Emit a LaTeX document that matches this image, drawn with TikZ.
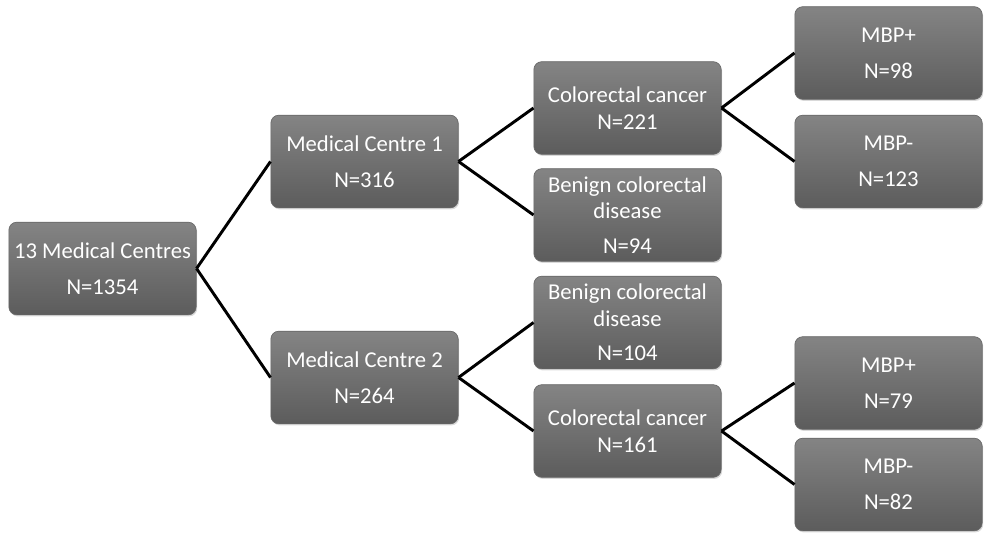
\documentclass[tikz,border=0pt]{standalone}
\usepackage{fontspec}
\setmainfont{Carlito}
\usetikzlibrary{shadows}
\definecolor{boxtop}{RGB}{132,132,132}
\definecolor{boxbot}{RGB}{92,92,92}
\definecolor{boxedge}{RGB}{104,104,104}
\tikzset{
  box/.style={rounded corners=6pt,minimum width=140.5pt,minimum height=69.5pt,
              align=center,inner xsep=1pt,text=white,
              font=\fontsize{17}{20}\selectfont},
  greybox/.style={box,draw=boxedge,line width=0.5pt,top color=boxtop,bottom color=boxbot,
              drop shadow={opacity=0.3,shadow xshift=0.8pt,shadow yshift=-1.2pt}},
  ln/.style={line width=2.2pt,black},
}

\begin{document}
\begin{tikzpicture}[x=0.75pt,y=-0.75pt]
\useasboundingbox (0,0) rectangle (984,532);

\def\xA{102.5}
\def\xB{364.5}
\def\xC{627.5}
\def\xD{888.5}

% ------------------------------------------------ root and centres
\node[greybox] (root) at (\xA,268.5) {13 Medical Centres\\[7pt]N=1354};
\node[greybox] (mc1) at (\xB,161.5) {Medical Centre 1\\[7pt]N=316};
\node[greybox] (mc2) at (\xB,377.5) {Medical Centre 2\\[7pt]N=264};

% ------------------------------------------------ diagnoses
\node[greybox] (cc1) at (\xC,108) {Colorectal cancer\\N=221};
\node[greybox] (bn1) at (\xC,215) {Benign colorectal\\disease\\[6pt]N=94};
\node[greybox] (bn2) at (\xC,322.5) {Benign colorectal\\disease\\[6pt]N=104};
\node[greybox] (cc2) at (\xC,431) {Colorectal cancer\\N=161};

% ------------------------------------------------ MBP
\node[greybox] (mp1) at (\xD,53) {MBP+\\[7pt]N=98};
\node[greybox] (mm1) at (\xD,161.5) {MBP-\\[7pt]N=123};
\node[greybox] (mp2) at (\xD,383) {MBP+\\[7pt]N=79};
\node[greybox] (mm2) at (\xD,484.5) {MBP-\\[7pt]N=82};

% ------------------------------------------------ connectors
\draw[ln] (root.east) -- (mc1.west);
\draw[ln] (root.east) -- (mc2.west);
\draw[ln] (mc1.east) -- (cc1.west);
\draw[ln] (mc1.east) -- (bn1.west);
\draw[ln] (mc2.east) -- (bn2.west);
\draw[ln] (mc2.east) -- (cc2.west);
\draw[ln] (cc1.east) -- (mp1.west);
\draw[ln] (cc1.east) -- (mm1.west);
\draw[ln] (cc2.east) -- (mp2.west);
\draw[ln] (cc2.east) -- (mm2.west);

\end{tikzpicture}
\end{document}
